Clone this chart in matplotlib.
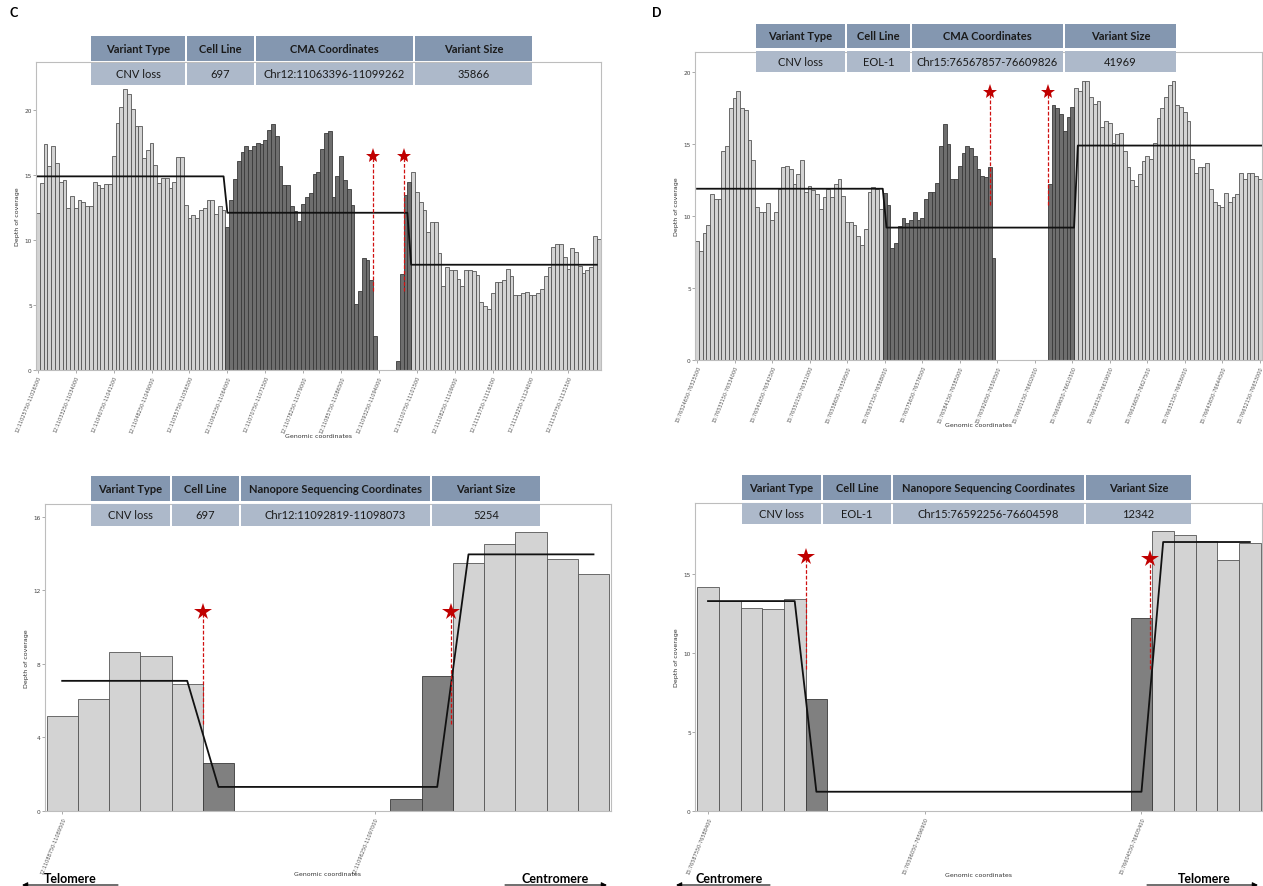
import matplotlib
matplotlib.use('Agg')
import matplotlib.pyplot as plt
from matplotlib.patches import Rectangle

W, H = 1263, 887

# ---- panel C : CMA, 697, chr12 (750 bp bins) ----
c_depth = [12.1, 14.4, 17.4, 15.7, 17.2, 15.9, 14.5, 14.6, 12.5, 13.4,
           12.5, 13.1, 12.9, 12.6, 12.6, 14.5, 14.2, 14.0, 14.3, 14.3,
           16.5, 19.0, 20.2, 21.6, 21.2, 20.1, 18.8, 18.8, 16.3, 16.9,
           17.5, 15.8, 14.4, 14.8, 14.8, 14.0, 14.5, 16.4, 16.4, 12.7,
           11.7, 11.9, 11.7, 12.3, 12.5, 13.1, 13.1, 12.0, 12.6, 12.3,
           11.0, 13.1, 14.7, 16.1, 16.8, 17.2, 16.9, 17.2, 17.5, 17.4,
           17.7, 18.5, 18.9, 18.0, 15.7, 14.2, 14.2, 12.6, 12.2, 11.5,
           12.8, 13.3, 13.6, 15.1, 15.2, 17.0, 18.2, 18.4, 13.3, 14.9,
           16.5, 14.6, 13.9, 12.7, 5.1, 6.1, 8.6, 8.5, 6.9, 2.6,
           0, 0, 0, 0, 0,
           0.7, 7.4, 13.5, 14.5,
           15.2, 13.7, 12.9, 12.3, 10.6, 11.4, 11.4, 9.0, 6.5, 7.9,
           7.7, 7.7, 7.0, 6.5, 7.7, 7.7, 7.6, 7.3, 5.2, 4.9,
           4.7, 5.9, 6.8, 6.8, 6.9, 7.8, 7.2, 5.8, 5.8, 5.9,
           6.0, 5.8, 5.8, 5.9, 6.2, 7.2, 7.9, 9.5, 9.7, 9.7,
           8.7, 7.8, 9.4, 9.1, 8.0, 7.5, 7.7, 7.9, 10.3, 10.1]
c_cnv = (50, 98)
c_seg_x = [0, 49, 50, 97.5, 98.5, 147.5]
c_seg_y = [14.9, 14.9, 12.1, 12.1, 8.1, 8.1]
c_stars = [(88.5, 6.1, 16.5), (96.5, 6.1, 16.5)]
c_ticks = ['12:11025750-11026500', '12:11033250-11034000', '12:11040750-11041500',
           '12:11048250-11049000', '12:11055750-11056500', '12:11063250-11064000',
           '12:11070750-11071500', '12:11078250-11079000', '12:11085750-11086500',
           '12:11093250-11094000', '12:11100750-11101500', '12:11108250-11109000',
           '12:11115750-11116500', '12:11123250-11124000', '12:11130750-11131500']
c_table = [['Variant Type', 'Cell Line', 'CMA Coordinates', 'Variant Size'],
           ['CNV loss', '697', 'Chr12:11063396-11099262', '35866']]

# ---- panel D : CMA, EOL-1, chr15 (850 bp bins) ----
d_depth = [8.3, 7.6, 8.8, 9.4, 11.5, 11.2, 11.2, 14.5, 14.9, 17.5,
           18.2, 18.7, 17.5, 17.4, 15.3, 13.9, 10.6, 10.3, 10.3, 10.9,
           9.7, 10.3, 11.9, 13.4, 13.5, 13.3, 12.2, 12.9, 13.9, 11.7,
           12.1, 11.8, 11.5, 10.5, 11.3, 11.9, 11.3, 12.2, 12.6, 11.4,
           9.6, 9.6, 9.4, 8.6, 8.0, 9.1, 11.7, 12.0, 11.9, 10.5,
           11.6, 10.8, 7.8, 8.1, 9.3, 9.9, 9.5, 9.7, 10.3, 9.7,
           9.9, 11.2, 11.7, 11.7, 12.3, 14.9, 16.4, 15.0, 12.6, 12.6,
           13.5, 14.4, 14.9, 14.7, 14.2, 13.3, 12.8, 12.7, 13.4, 7.1,
           0, 0, 0, 0, 0, 0, 0, 0, 0, 0, 0, 0, 0, 0,
           12.2, 17.7, 17.5, 17.1, 15.9, 16.9, 17.6,
           18.9, 18.7, 19.4, 19.4, 18.3, 17.8, 18.0, 16.2, 16.6, 16.5,
           15.1, 15.7, 15.8, 14.5, 13.4, 12.5, 12.1, 12.9, 13.8, 14.2,
           14.0, 15.1, 16.8, 17.5, 18.3, 19.1, 19.4, 17.7, 17.6, 17.2,
           16.6, 14.0, 13.0, 13.4, 13.4, 13.7, 11.9, 11.0, 10.8, 10.6,
           11.6, 11.0, 11.3, 11.5, 13.0, 12.6, 13.0, 13.0, 12.8, 12.6]
d_cnv = (50, 100)
d_seg_x = [0, 49.5, 50.5, 100.5, 101.5, 150.5]
d_seg_y = [11.9, 11.9, 9.2, 9.2, 14.9, 14.9]
d_stars = [(78, 10.8, 18.6), (93.6, 10.8, 18.6)]
d_ticks = ['15:76524650-76525500', '15:76533150-76534000', '15:76541650-76542500',
           '15:76550150-76551000', '15:76558650-76559500', '15:76567150-76568000',
           '15:76575650-76576500', '15:76584150-76585000', '15:76592650-76593500',
           '15:76601150-76602000', '15:76609650-76610500', '15:76618150-76619000',
           '15:76626650-76627500', '15:76635150-76636000', '15:76643650-76644500',
           '15:76652150-76653000']
d_table = [['Variant Type', 'Cell Line', 'CMA Coordinates', 'Variant Size'],
           ['CNV loss', 'EOL-1', 'Chr15:76567857-76609826', '41969']]

# ---- panel C bottom : nanopore, 697 ----
e_depth = [5.15, 6.1, 8.65, 8.45, 6.9, 2.6, 0, 0, 0, 0, 0, 0.65, 7.37,
           13.5, 14.5, 15.2, 13.7, 12.9]
e_dark = [5, 11, 12]
e_seg_x = [0, 4, 5, 12, 13, 17]
e_seg_y = [7.08, 7.08, 1.31, 1.31, 13.96, 13.96]
e_stars = [(4.5, 4.75, 10.83), (12.45, 4.75, 10.83)]
e_tick_pos = [0, 10]
e_ticks = ['12:11088750-11089500', '12:11096250-11097000']
e_table = [['Variant Type', 'Cell Line', 'Nanopore Sequencing Coordinates', 'Variant Size'],
           ['CNV loss', '697', 'Chr12:11092819-11098073', '5254']]

# ---- panel D bottom : nanopore, EOL-1 ----
f_depth = [14.2, 13.27, 12.87, 12.76, 13.44, 7.09,
           0, 0, 0, 0, 0, 0, 0, 0, 0, 0, 0, 0, 0, 0,
           12.2, 17.74, 17.49, 17.09, 15.9, 16.98]
f_dark = [5, 20]
f_seg_x = [0, 4, 5, 20, 21, 25]
f_seg_y = [13.29, 13.29, 1.22, 1.22, 17.03, 17.03]
f_stars = [(4.5, 9.0, 16.08), (20.4, 8.97, 15.97)]
f_tick_pos = [0, 10, 20]
f_ticks = ['15:76587550-76588400', '15:76596050-76596900', '15:76604550-76605400']
f_table = [['Variant Type', 'Cell Line', 'Nanopore Sequencing Coordinates', 'Variant Size'],
           ['CNV loss', 'EOL-1', 'Chr15:76592256-76604598', '12342']]


fig = plt.figure(figsize=(W / 100, H / 100), dpi=100)


def box(l, t, r, b):
    return [l / W, 1 - b / H, (r - l) / W, (b - t) / H]


def panel(rect, depth, dark, dark_col, xlim, ylim, yticks, tpos, tlabels,
          seg_x, seg_y, stars, star_size, xlab_pad):
    ax = fig.add_axes(rect)
    light = [i for i in range(len(depth)) if depth[i] > 0 and i not in dark]
    drk = [i for i in range(len(depth)) if depth[i] > 0 and i in dark]
    ax.bar(light, [depth[i] for i in light], width=1.0, color='#D3D3D3',
           edgecolor='#555555', linewidth=0.6)
    ax.bar(drk, [depth[i] for i in drk], width=1.0, color=dark_col,
           edgecolor='#3a3a3a', linewidth=0.6)
    ax.plot(seg_x, seg_y, color='#111111', lw=1.3, zorder=4)
    for sx, y0, y1 in stars:
        ax.plot([sx, sx], [y0, y1], color='#D01010', lw=0.9,
                linestyle=(0, (3, 1.5)), zorder=5)
        ax.plot(sx, y1, marker='*', color='#C00000', markersize=star_size,
                markeredgewidth=0, zorder=6)
    ax.set_xlim(*xlim)
    ax.set_ylim(*ylim)
    ax.set_yticks(yticks)
    ax.set_xticks(tpos)
    ax.set_xticklabels(tlabels, rotation=68, ha='right', rotation_mode='anchor',
                       fontsize=3.6, color='#555555')
    ax.tick_params(axis='y', labelsize=4.2, labelcolor='#444444', length=2,
                   width=0.5, color='#888888', pad=1)
    ax.tick_params(axis='x', length=2, width=0.5, color='#888888', pad=1.5)
    for s in ax.spines.values():
        s.set_color('#BDBDBD')
        s.set_linewidth(0.8)
    ax.set_ylabel('Depth of coverage', fontsize=4.5, color='#333333', labelpad=3)
    ax.set_xlabel('Genomic coordinates', fontsize=4.5, color='#333333',
                  labelpad=xlab_pad)
    return ax


c_dark = list(range(c_cnv[0], c_cnv[1] + 1))
d_dark = list(range(d_cnv[0], d_cnv[1] + 1))

panel(box(36, 63, 601, 371), c_depth, c_dark, '#6E6E6E', (-0.5, 148.6), (0, 23.7),
      [0, 5, 10, 15, 20], list(range(0, len(c_depth), 10)), c_ticks,
      c_seg_x, c_seg_y, c_stars, 11, 0)
panel(box(695, 53, 1262, 361), d_depth, d_dark, '#6E6E6E', (-0.55, 150.6), (0, 21.4),
      [0, 5, 10, 15, 20], list(range(0, len(d_depth), 10)), d_ticks,
      d_seg_x, d_seg_y, d_stars, 11, -1)
panel(box(45, 505, 611, 812), e_depth, e_dark, '#808080', (-0.55, 17.56), (0, 16.7),
      [0, 4, 8, 12, 16], e_tick_pos, e_ticks,
      e_seg_x, e_seg_y, e_stars, 13, -2)
panel(box(695, 504, 1262, 812), f_depth, f_dark, '#808080', (-0.6, 25.56), (0, 19.5),
      [0, 5, 10, 15], f_tick_pos, f_ticks,
      f_seg_x, f_seg_y, f_stars, 13, -2)

# overlay in pixel coordinates for the tables, letters and arrows
ov = fig.add_axes([0, 0, 1, 1], zorder=10)
ov.set_xlim(0, W)
ov.set_ylim(H, 0)
ov.axis('off')


def table(cols, rows_y, cells):
    for r, (t, b) in enumerate(rows_y):
        fc = '#8497B0' if r == 0 else '#ADB9CA'
        for k in range(len(cols) - 1):
            l, rr = cols[k], cols[k + 1]
            ov.add_patch(Rectangle((l + 1, t), rr - l - 2, b - t, facecolor=fc,
                                   edgecolor='none'))
            ov.text((l + rr) / 2, (t + b) / 2, cells[r][k], ha='center', va='center',
                    fontsize=8, family='Lato', color='#1a1a1a',
                    fontweight='bold' if r == 0 else 'normal')


table([90, 186, 255, 414, 533], [(37, 62), (64, 86)], c_table)
table([755, 846, 911, 1064, 1177], [(25, 49), (52, 73)], d_table)
table([90, 171, 240, 431, 541], [(477, 502), (505, 527)], e_table)
table([741, 822, 892, 1085, 1192], [(476, 501), (504, 525)], f_table)

ov.text(10, 13, 'C', fontsize=9, fontweight='bold', va='center', family='Lato')
ov.text(652, 13, 'D', fontsize=9, fontweight='bold', va='center', family='Lato')


def arrow_label(txt, tx, x_tail, x_head):
    ov.text(tx, 879, txt, ha='center', va='center', fontsize=9, fontweight='bold',
            family='Lato')
    ov.annotate('', xy=(x_head, 886), xytext=(x_tail, 886),
                arrowprops=dict(arrowstyle='-|>', color='black', lw=0.8,
                                mutation_scale=8, shrinkA=0, shrinkB=0))


arrow_label('Telomere', 70, 118, 22)
arrow_label('Centromere', 555, 505, 607)
arrow_label('Centromere', 729, 770, 676)
arrow_label('Telomere', 1204, 1147, 1258)

plt.savefig('out.png', dpi=100)
